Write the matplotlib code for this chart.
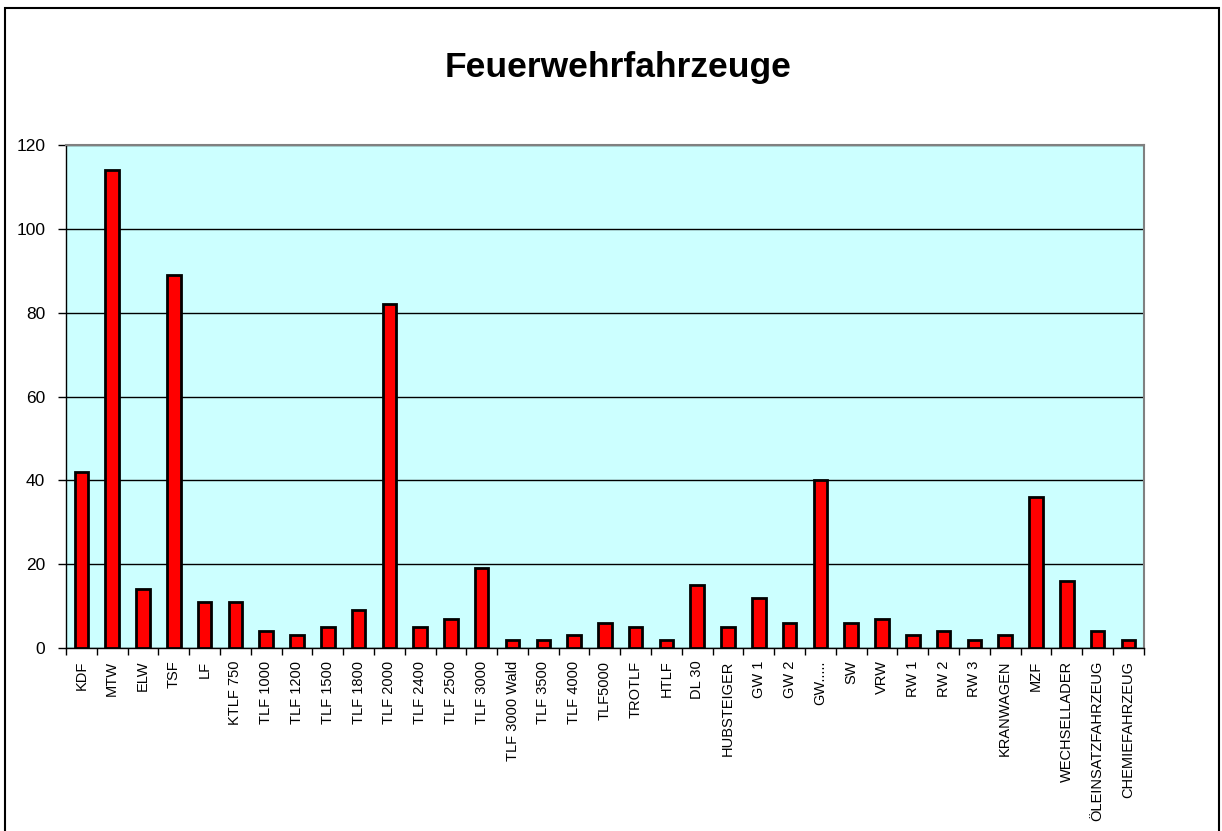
import matplotlib
matplotlib.use("Agg")
import matplotlib.pyplot as plt
from matplotlib.patches import Rectangle
import numpy as np

plt.rcParams["font.family"] = ["Liberation Sans", "DejaVu Sans"]

categories = [
    "KDF", "MTW", "ELW", "TSF", "LF", "KTLF 750", "TLF 1000", "TLF 1200",
    "TLF 1500", "TLF 1800", "TLF 2000", "TLF 2400", "TLF 2500", "TLF 3000",
    "TLF 3000 Wald", "TLF 3500", "TLF 4000", "TLF5000", "TROTLF", "HTLF",
    "DL 30", "HUBSTEIGER", "GW 1", "GW 2", "GW.....", "SW", "VRW", "RW 1",
    "RW 2", "RW 3", "KRANWAGEN", "MZF", "WECHSELLADER", "ÖLEINSATZFAHRZEUG",
    "CHEMIEFAHRZEUG",
]
counts = [
    42, 114, 14, 89, 11, 11, 4, 3, 5, 9, 82, 5, 7, 19, 2, 2, 3, 6, 5, 2,
    15, 5, 12, 6, 40, 6, 7, 3, 4, 2, 3, 36, 16, 4, 2,
]
yticks = [0, 20, 40, 60, 80, 100, 120]


def main():
    fig = plt.figure(figsize=(12.22, 8.31), dpi=100)
    # outer frame of the chart area (bottom edge runs off the picture)
    fig.patches.append(Rectangle((5 / 1222, -0.01), 1214 / 1222, 1.0 - 8 / 831 + 0.01,
                                 transform=fig.transFigure, fill=False,
                                 edgecolor="black", linewidth=1.5))

    ax = fig.add_axes([0.054, 0.2202, 0.882, 0.6053])
    ax.set_facecolor("#CCFFFF")

    x = np.arange(len(categories))
    ax.bar(x, counts, width=0.44, color="#FF0000", edgecolor="black", linewidth=2, zorder=3)

    ax.set_xlim(-0.5, len(categories) - 0.5)
    ax.set_ylim(0, 120)
    ax.set_yticks(yticks)
    ax.tick_params(axis="y", direction="out", length=6, labelsize=12.5, width=1, pad=9)
    ax.yaxis.grid(True, color="black", linewidth=1, zorder=1)

    ax.set_xticks(x)
    ax.set_xticklabels(categories, rotation=90, fontsize=10.5)
    ax.tick_params(axis="x", which="major", length=0, pad=9)
    ax.set_xticks(np.arange(-0.5, len(categories)), minor=True)
    ax.tick_params(axis="x", which="minor", direction="out", length=5, width=1)

    for side in ["top", "right"]:
        ax.spines[side].set_color("#808080")
        ax.spines[side].set_linewidth(1.5)
    for side in ["left", "bottom"]:
        ax.spines[side].set_color("black")
        ax.spines[side].set_linewidth(1)

    fig.text(618 / 1222, 1 - 68 / 831, "Feuerwehrfahrzeuge", ha="center", va="center",
             fontsize=25.5, fontweight="bold")

    plt.savefig("out.png", dpi=100)


if __name__ == "__main__":
    main()
